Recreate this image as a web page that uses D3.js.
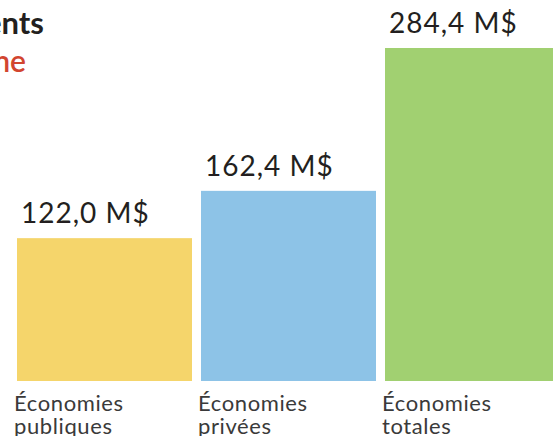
<!DOCTYPE html>
<html>
<head>
<meta charset="utf-8">
<script src="https://cdn.jsdelivr.net/npm/d3@7"></script>
<style>
  html, body { margin: 0; padding: 0; background: #fff; overflow: hidden; }
  svg { display: block; font-family: "Lato", "Open Sans", sans-serif; }
</style>
</head>
<body>
<svg id="chart"></svg>
<script>
// Data
const categories = ["Économies publiques", "Économies privées", "Économies totales"];
const categoryLines = [["Économies", "publiques"], ["Économies", "privées"], ["Économies", "totales"]];
const values = [122.0, 162.4, 284.4];
const valueLabels = ["122,0 M$", "162,4 M$", "284,4 M$"];
const colors = ["#f5d56b", "#8dc3e7", "#a1d071"];

const width = 553;
const height = 436;

const svg = d3.select("#chart")
    .attr("width", width)
    .attr("height", height);

// Title (cut off on the left in the original)
svg.append("text")
    .attr("x", 44)
    .attr("y", 34)
    .attr("text-anchor", "end")
    .attr("font-size", 31)
    .attr("font-weight", 700)
    .attr("fill", "#231f20")
    .text("Investissements");

svg.append("text")
    .attr("x", 26)
    .attr("y", 72)
    .attr("text-anchor", "end")
    .attr("font-size", 30)
    .attr("font-weight", 600)
    .attr("fill", "#d2452f")
    .text("Programme");

// Scales
const x = d3.scaleBand()
    .domain(categories)
    .range([17, 560])
    .paddingInner(9 / 184)
    .paddingOuter(0);

const y = d3.scaleLinear()
    .domain([0, d3.max(values)])
    .range([381, 48]);

const rows = categories.map((c, i) => ({ cat: c, value: values[i], label: valueLabels[i], lines: categoryLines[i], color: colors[i] }));

// Bars
svg.selectAll("rect.bar")
    .data(rows)
    .enter().append("rect")
    .attr("class", "bar")
    .attr("x", d => x(d.cat))
    .attr("y", d => y(d.value))
    .attr("width", x.bandwidth())
    .attr("height", d => y(0) - y(d.value))
    .attr("fill", d => d.color);

// Value labels
svg.selectAll("text.value")
    .data(rows)
    .enter().append("text")
    .attr("class", "value")
    .attr("x", d => x(d.cat) + 4)
    .attr("y", d => y(d.value) - 15)
    .attr("font-size", 28)
    .attr("letter-spacing", 1)
    .attr("fill", "#231f20")
    .text(d => d.label);

// Category labels
const cat = svg.selectAll("text.cat")
    .data(rows)
    .enter().append("text")
    .attr("class", "cat")
    .attr("x", d => x(d.cat) - 3)
    .attr("y", 410.5)
    .attr("font-size", 22)
    .attr("letter-spacing", 0.6)
    .attr("fill", "#3a3a3a");

cat.selectAll("tspan")
    .data(d => d.lines.map(l => ({ l, x: x(d.cat) - 3 })))
    .enter().append("tspan")
    .attr("x", t => t.x)
    .attr("dy", (t, i) => i === 0 ? 0 : 23)
    .text(t => t.l);
</script>
</body>
</html>
